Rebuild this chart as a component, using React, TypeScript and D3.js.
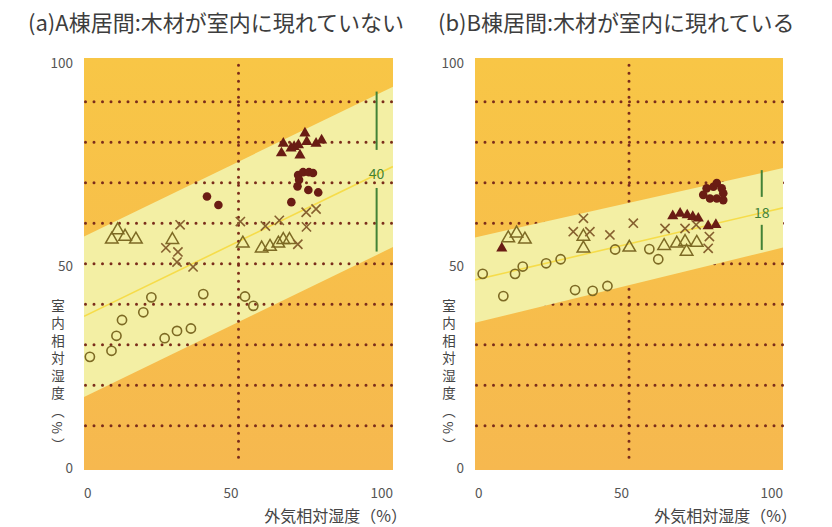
import React from 'react';
import * as d3 from 'd3';

type Pt = [number, number];

// ---------- shared axis / grid values ----------
const gridValues = [10, 20, 30, 40, 50, 60, 70, 80, 90];
const vGridValues = [50];
const xTicks = [0, 50, 100];
const yTicks = [0, 50, 100];

// ---------- panel (a) data ----------
const aOpenCircles: Pt[] = [[1.9, 27.0], [8.9, 28.5], [10.5, 32.2], [12.3, 36.1], [19.2, 38.0], [21.8, 41.7], [26.1, 31.6], [30.1, 33.4], [34.6, 34.0], [38.6, 42.5], [52.1, 41.9], [54.8, 39.6]];
const aOpenTriangles: Pt[] = [[9.0, 56.0], [10.9, 58.3], [13.3, 56.7], [16.8, 56.0], [28.6, 55.9], [51.4, 55.0], [57.5, 53.8], [60.2, 54.2], [62.9, 55.0], [64.5, 55.9], [66.5, 55.9]];
const aCrosses: Pt[] = [[31.1, 59.6], [26.5, 53.9], [30.4, 52.9], [30.1, 50.4], [35.3, 49.2], [50.6, 60.4], [58.7, 59.3], [63.2, 60.7], [69.2, 54.8], [71.9, 62.7], [75.1, 63.5], [72.0, 59.1]];
const aFilledCircles: Pt[] = [[39.8, 66.6], [43.5, 64.5], [67.1, 65.2], [69.1, 69.1], [69.6, 70.7], [69.3, 71.9], [70.9, 72.6], [72.8, 72.6], [74.1, 72.4], [72.6, 68.2], [75.8, 67.6]];
const aFilledTriangles: Pt[] = [[64.5, 79.7], [63.9, 77.3], [67.0, 78.5], [68.0, 78.9], [69.4, 79.3], [69.9, 76.8], [71.5, 82.2], [72.1, 80.1], [75.1, 79.7], [76.9, 80.5]];
const aBandUpper: Pt[] = [[0, 56.7], [100, 93.7]];
const aBandLower: Pt[] = [[0, 17.1], [100, 54.1]];
const aBandCenter: Pt[] = [[0, 37.0], [100, 74.0]];
const aBracket = { x: 94.7, lo: 53.0, hi: 92.5, gapLo: 68.7, gapHi: 78.1, mid: 72.5, label: '40' };

// ---------- panel (b) data ----------
const bOpenCircles: Pt[] = [[2.5, 47.5], [9.2, 42.0], [13.0, 47.5], [15.5, 49.3], [23.1, 50.1], [27.8, 51.1], [32.5, 43.5], [38.2, 43.3], [43.0, 44.5], [45.5, 53.5], [56.6, 53.6], [59.5, 51.1]];
const bOpenTriangles: Pt[] = [[10.8, 56.3], [13.5, 57.5], [16.2, 56.0], [35.2, 56.7], [35.2, 53.8], [50.1, 54.0], [61.4, 54.4], [65.5, 55.0], [68.2, 55.4], [68.7, 53.0], [72.0, 55.2]];
const bCrosses: Pt[] = [[35.2, 61.2], [31.9, 57.9], [37.3, 57.9], [43.8, 57.1], [51.4, 60.0], [61.7, 58.7], [68.2, 58.7], [71.8, 59.6], [76.1, 56.7], [75.7, 53.8]];
const bFilledTriangles: Pt[] = [[8.7, 53.8], [64.2, 61.8], [66.6, 62.4], [68.9, 62.0], [70.7, 61.6], [72.5, 61.2], [75.7, 59.3], [78.2, 59.6]];
const bFilledCircles: Pt[] = [[75.2, 68.6], [77.4, 69.0], [78.5, 69.9], [80.1, 68.6], [74.1, 67.0], [76.3, 66.1], [78.5, 66.1], [80.6, 67.4], [80.6, 65.7]];
const bBandUpper: Pt[] = [[0, 56.5], [100, 73.6]];
const bBandLower: Pt[] = [[0, 35.4], [100, 54.0]];
const bBandCenter: Pt[] = [[0, 46.0], [100, 63.8]];
const bBracket = { x: 93.1, lo: 53.4, hi: 73.1, gapLo: 59.6, gapHi: 66.5, mid: 62.8, label: '18' };

const titleA = '(a)A棟居間:木材が室内に現れていない';
const titleB = '(b)B棟居間:木材が室内に現れている';
const xTitle = '外気相対湿度（%）';
const yTitle = '室内相対湿度（%）';

const FONT = "'Noto Sans CJK JP', 'Noto Sans', sans-serif";
const C_DOT = '#7a2c1b';
const C_OPEN = '#7d6a24';
const C_CROSS = '#86602f';
const C_FILL = '#6a1c14';
const C_GREEN = '#428236';
const C_BAND = '#f3efa4';

interface PanelCfg {
  id: string;
  title: string;
  titleX: number;
  left: number;
  right: number;
  gridOnTop: boolean;
  openCircles: Pt[];
  openTriangles: Pt[];
  crosses: Pt[];
  filledCircles: Pt[];
  filledTriangles: Pt[];
  upper: Pt[];
  lower: Pt[];
  center: Pt[];
  bracket: { x: number; lo: number; hi: number; gapLo: number; gapHi: number; mid: number; label: string };
}

const TOP = 58;
const BOTTOM = 470;

function Panel({ cfg }: { cfg: PanelCfg }) {
  const x = d3.scaleLinear().domain([0, 100]).range([cfg.left, cfg.right]);
  const y = d3.scaleLinear().domain([0, 100]).range([466.2, 61.2]);
  const line = d3.line<Pt>().x((d) => x(d[0])).y((d) => y(d[1]));
  const bandPath = line([...cfg.upper, ...[...cfg.lower].reverse()]) + 'Z';
  const centerPath = line(cfg.center) || '';
  const triOpen = d3.symbol().type(d3.symbolTriangle).size(68)() || '';
  const triFill = d3.symbol().type(d3.symbolTriangle).size(54)() || '';
  const clipId = `clip-${cfg.id}`;
  const gradId = `grad-${cfg.id}`;

  const grid = (
    <g>
      {gridValues.map((v) => (
        <line key={`h${v}`} x1={cfg.left + 1.5} x2={cfg.right} y1={y(v)} y2={y(v)} stroke={C_DOT} strokeWidth={3} strokeLinecap="round" strokeDasharray="0 8.5" />
      ))}
      {vGridValues.map((v) => (
        <line key={`v${v}`} x1={x(v)} x2={x(v)} y1={y(99)} y2={y(0.8)} stroke={C_DOT} strokeWidth={3} strokeLinecap="round" strokeDasharray="0 8" />
      ))}
    </g>
  );
  const band = (
    <g clipPath={`url(#${clipId})`}>
      <path d={bandPath} fill={C_BAND} />
      <path d={centerPath} stroke="#f6dc4a" strokeWidth={1.6} fill="none" />
    </g>
  );
  const b = cfg.bracket;

  return (
    <g>
      <defs>
        <clipPath id={clipId}>
          <rect x={cfg.left} y={TOP} width={cfg.right - cfg.left} height={BOTTOM - TOP} />
        </clipPath>
        <linearGradient id={gradId} x1="0" y1="0" x2="0" y2="1">
          <stop offset="0" stopColor="#f8c646" />
          <stop offset="1" stopColor="#f6b84f" />
        </linearGradient>
      </defs>
      <rect x={cfg.left} y={TOP} width={cfg.right - cfg.left} height={BOTTOM - TOP} fill={`url(#${gradId})`} />
      {cfg.gridOnTop ? band : grid}
      {cfg.gridOnTop ? grid : band}

      {/* bracket */}
      <line x1={x(b.x)} x2={x(b.x)} y1={y(b.hi)} y2={y(b.gapHi)} stroke={C_GREEN} strokeWidth={2} />
      <line x1={x(b.x)} x2={x(b.x)} y1={y(b.gapLo)} y2={y(b.lo)} stroke={C_GREEN} strokeWidth={2} />
      <text x={x(b.x)} y={y(b.mid)} textAnchor="middle" dominantBaseline="central" fontFamily={FONT} fontSize={14} fill={C_GREEN}>{b.label}</text>

      {/* markers */}
      {cfg.openCircles.map((d, i) => (
        <circle key={`oc${i}`} cx={x(d[0])} cy={y(d[1])} r={4.6} fill="none" stroke={C_OPEN} strokeWidth={1.6} />
      ))}
      {cfg.openTriangles.map((d, i) => (
        <path key={`ot${i}`} d={triOpen} transform={`translate(${x(d[0])},${y(d[1])})`} fill="none" stroke={C_OPEN} strokeWidth={1.5} />
      ))}
      {cfg.crosses.map((d, i) => {
        const cx = x(d[0]);
        const cy = y(d[1]);
        const s = 4.6;
        return (
          <path key={`cr${i}`} d={`M${cx - s},${cy - s}L${cx + s},${cy + s}M${cx - s},${cy + s}L${cx + s},${cy - s}`} stroke={C_CROSS} strokeWidth={1.6} fill="none" />
        );
      })}
      {cfg.filledCircles.map((d, i) => (
        <circle key={`fc${i}`} cx={x(d[0])} cy={y(d[1])} r={4.3} fill={C_FILL} />
      ))}
      {cfg.filledTriangles.map((d, i) => (
        <path key={`ft${i}`} d={triFill} transform={`translate(${x(d[0])},${y(d[1])})`} fill={C_FILL} />
      ))}

      {/* title */}
      <text x={cfg.titleX} y={31} fontFamily={FONT} fontSize={22} fill="#3d3d3d">{cfg.title}</text>

      {/* x tick labels */}
      {xTicks.map((t) => (
        <text key={`xt${t}`} x={x(t)} y={492} textAnchor={t === 0 ? 'start' : 'end'} dominantBaseline="central" fontFamily={FONT} fontSize={13.5} fill="#555">{t}</text>
      ))}
      {/* y tick labels */}
      {yTicks.map((t) => (
        <text key={`yt${t}`} x={cfg.left - 11} y={y(t) + 1} textAnchor="end" dominantBaseline="central" fontFamily={FONT} fontSize={13.5} fill="#555">{t}</text>
      ))}
      {/* axis titles */}
      <text x={cfg.right + 14} y={522} textAnchor="end" fontFamily={FONT} fontSize={16} fill="#444">{xTitle}</text>
      <text x={cfg.left - 26} y={299} fontFamily={FONT} fontSize={13.5} fill="#444" letterSpacing={4} style={{ writingMode: 'vertical-rl' } as React.CSSProperties}>{yTitle}</text>
    </g>
  );
}

const panelA: PanelCfg = {
  id: 'a', title: titleA, titleX: 28, left: 84, right: 393, gridOnTop: true,
  openCircles: aOpenCircles, openTriangles: aOpenTriangles, crosses: aCrosses,
  filledCircles: aFilledCircles, filledTriangles: aFilledTriangles,
  upper: aBandUpper, lower: aBandLower, center: aBandCenter, bracket: aBracket,
};
const panelB: PanelCfg = {
  id: 'b', title: titleB, titleX: 438, left: 475, right: 783, gridOnTop: false,
  openCircles: bOpenCircles, openTriangles: bOpenTriangles, crosses: bCrosses,
  filledCircles: bFilledCircles, filledTriangles: bFilledTriangles,
  upper: bBandUpper, lower: bBandLower, center: bBandCenter, bracket: bBracket,
};

export default function App() {
  return (
    <svg width={832} height={527} style={{ position: 'absolute', left: 0, top: 0, background: '#fff' }}>
      <rect x={0} y={0} width={832} height={527} fill="#fff" />
      <Panel cfg={panelA} />
      <Panel cfg={panelB} />
    </svg>
  );
}
